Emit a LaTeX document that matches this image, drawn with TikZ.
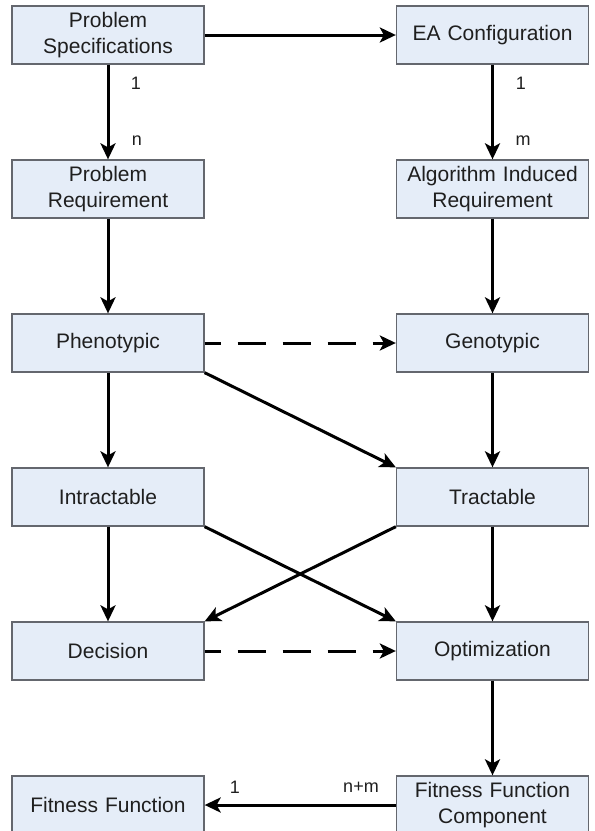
\documentclass[tikz,border=0pt]{standalone}
\usepackage{fontspec}
\setmainfont{Liberation Sans}
\usetikzlibrary{arrows.meta}
\definecolor{boxfill}{RGB}{229,237,248}
\definecolor{boxdraw}{RGB}{100,103,110}
\tikzset{
  box/.style={draw=boxdraw, fill=boxfill, line width=1.3pt, minimum width=192pt, minimum height=58pt,
    inner sep=0pt, align=center, text width=190pt, font=\fontsize{21}{26}\selectfont, text=black!88},
  conn/.style={line width=3pt, -{Stealth[length=16pt,width=15pt,inset=4pt]}},
  dconn/.style={conn, dash pattern=on 28pt off 17pt, dash phase=12pt},
  lbl/.style={font=\fontsize{18}{20}\selectfont, inner sep=0pt, text=black!88}
}
\begin{document}
\begin{tikzpicture}[x=1pt,y=-1pt]
\useasboundingbox (0,0) rectangle (595,831);
\clip (0,0) rectangle (595,831);
\fill[white] (0,0) rectangle (595,831);
\node[box] (ps) at (108,35) {Problem\\Specifications};
\node[box] (ea) at (492.5,35) {EA Configuration};
\node[box] (pr) at (108,189) {Problem\\Requirement};
\node[box] (ai) at (492.5,189) {Algorithm Induced\\Requirement};
\node[box] (ph) at (108,343) {Phenotypic};
\node[box] (ge) at (492.5,343) {Genotypic};
\node[box] (in) at (108,497) {Intractable};
\node[box] (tr) at (492.5,497) {Tractable};
\node[box] (de) at (108,651) {Decision};
\node[box] (op) at (492.5,651) {Optimization};
\node[box] (ff) at (108,805) {Fitness Function};
\node[box] (fc) at (492.5,805) {Fitness Function\\Component};

\draw[conn] (ps) -- (ea);
\draw[conn] (ps) -- (pr);
\draw[conn] (ea) -- (ai);
\draw[conn] (pr) -- (ph);
\draw[conn] (ai) -- (ge);
\draw[dconn] (ph) -- (ge);
\draw[conn] (ph) -- (in);
\draw[conn] (ph.south east) -- (tr.north west);
\draw[conn] (ge) -- (tr);
\draw[conn] (in) -- (de);
\draw[conn] (in.south east) -- (op.north west);
\draw[conn] (tr.south west) -- (de.north east);
\draw[conn] (tr) -- (op);
\draw[dconn] (de) -- (op);
\draw[conn] (op) -- (fc);
\draw[conn] (fc) -- (ff);

\node[lbl] (l1) at (136,83) {1};
\node[lbl] (l2) at (137,141) {n};
\node[lbl] (l3) at (521,83) {1};
\node[lbl] (l4) at (523,141) {m};
\node[lbl] (l5) at (235,787) {1};
\node[lbl] (l6) at (361,787) {n+m};
\end{tikzpicture}
\end{document}
